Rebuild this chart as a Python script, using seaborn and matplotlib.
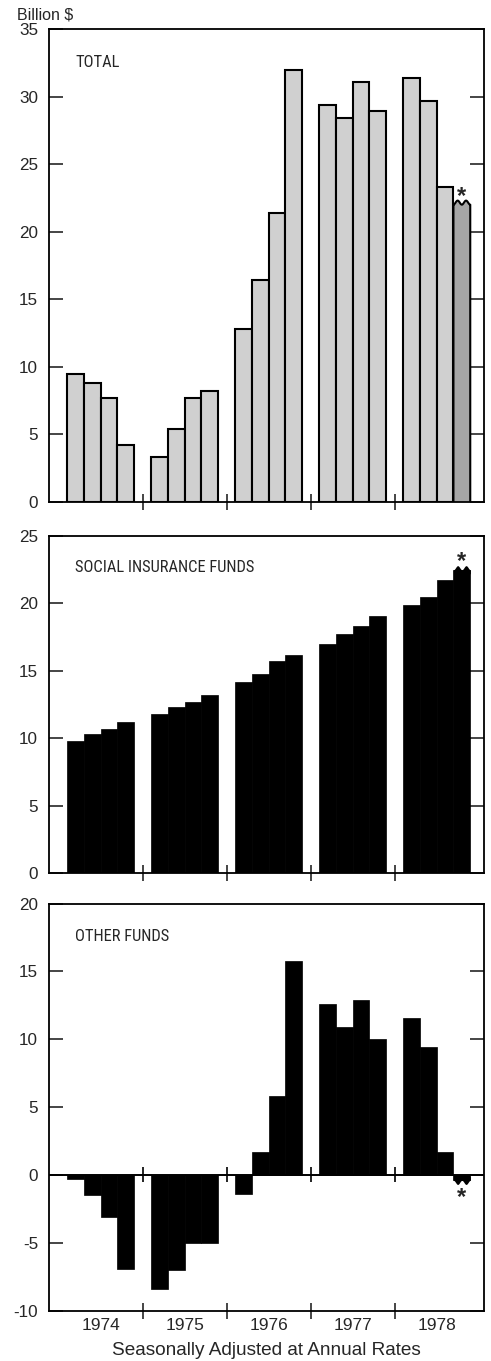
import numpy as np
import pandas as pd
import matplotlib
matplotlib.use("Agg")
import matplotlib.pyplot as plt
from matplotlib import font_manager
import seaborn as sns

# quarterly values, billion $ (seasonally adjusted annual rates)
years = ["1974", "1975", "1976", "1977", "1978"]
quarters = [1, 2, 3, 4]
total = [9.5, 8.8, 7.7, 4.2, 3.3, 5.4, 7.7, 8.2, 12.8, 16.4, 21.4, 32.0,
         29.4, 28.4, 31.1, 28.9, 31.4, 29.7, 23.3, 22.0]
social = [9.8, 10.3, 10.7, 11.2, 11.8, 12.3, 12.7, 13.2, 14.2, 14.8, 15.7, 16.2,
          17.0, 17.7, 18.3, 19.1, 19.9, 20.5, 21.7, 22.5]
other = [-0.3, -1.5, -3.1, -6.9, -8.4, -7.0, -5.0, -5.0, -1.4, 1.7, 5.8, 15.8,
         12.6, 10.9, 12.9, 10.0, 11.6, 9.4, 1.7, -0.4]
panel_titles = ["TOTAL", "SOCIAL INSURANCE FUNDS", "OTHER FUNDS"]

sns.set_style("white")
plt.rcParams["font.family"] = ["Liberation Sans", "DejaVu Sans"]
plt.rcParams["axes.unicode_minus"] = False


def pick_font(cands):
    for name, size in cands:
        try:
            font_manager.findfont(font_manager.FontProperties(family=name),
                                  fallback_to_default=False)
            return name, size
        except ValueError:
            continue
    return "Liberation Sans", 9.6


# panel labels are set in a condensed face
narrow, narrow_size = pick_font([("Liberation Sans Narrow", 12.4),
                                 ("Roboto Condensed", 11.9),
                                 ("Noto Sans Condensed", 11.3),
                                 ("Open Sans Condensed", 11.9)])

# 4 bars per year plus one empty slot between years
pos = [y * 5 + (q - 1) for y in range(len(years)) for q in quarters]
df = pd.DataFrame({"pos": pos, "total": total, "social": social, "other": other})
year_breaks = [y * 5 + 4 for y in range(len(years) - 1)]
year_centers = [y * 5 + 1.5 for y in range(len(years))]

fig = plt.figure(figsize=(4.91, 13.61), dpi=100)
ax1 = fig.add_axes([0.0998, 0.6312, 0.886, 0.3475])
ax2 = fig.add_axes([0.0998, 0.3583, 0.886, 0.2479])
ax3 = fig.add_axes([0.0998, 0.0370, 0.886, 0.2991])


def bumps(x0, x1, n=60):
    t = np.linspace(0, 1, n)
    return x0 + (x1 - x0) * t, np.sin(2 * np.pi * t) ** 2


def style_axis(ax, ylim, yticks, title, ty):
    ax.set_xlim(-1.57, 24.32)
    ax.set_ylim(*ylim)
    ax.set_yticks(yticks)
    ax.set_xticks(year_breaks)
    ax.set_xticklabels([])
    ax.set_xlabel("")
    ax.set_ylabel("")
    ax.tick_params(axis="y", direction="in", length=10, width=1.2,
                   left=True, right=True, labelsize=12.3, pad=8)
    ax.tick_params(axis="x", which="major", direction="inout", length=11,
                   width=1.2, bottom=True, top=False)
    for s in ax.spines.values():
        s.set_linewidth(1.3)
        s.set_color("black")
    ax.text(0.06, ty, title, transform=ax.transAxes, fontsize=narrow_size,
            family=[narrow, "DejaVu Sans"], va="center", ha="left")


# TOTAL
sns.barplot(data=df, x="pos", y="total", native_scale=True, width=1.0,
            color="#d0d0d0", edgecolor="black", linewidth=1.5,
            saturation=1, errorbar=None, ax=ax1)
last = ax1.patches[-1]
last.set_facecolor("#a6a6a6")
last.set_linewidth(0)
x0, x1 = last.get_x(), last.get_x() + last.get_width()
v = total[-1]
wx, wy = bumps(x0, x1)
ax1.fill_between(wx, v - 0.5, v + 0.3 * wy, color="#a6a6a6", lw=0)
ax1.plot(np.r_[x0, wx, x1], np.r_[0, v + 0.3 * wy, 0], color="black", lw=1.5)
ax1.annotate("*", xy=((x0 + x1) / 2, v), xytext=(0, 6), textcoords="offset points",
             ha="center", va="center", fontsize=17, fontweight="bold")
style_axis(ax1, (0, 35), range(0, 36, 5), panel_titles[0], 0.930)

# SOCIAL INSURANCE FUNDS
sns.barplot(data=df, x="pos", y="social", native_scale=True, width=1.0,
            color="black", edgecolor="black", linewidth=0.5,
            saturation=1, errorbar=None, ax=ax2)
last = ax2.patches[-1]
x0, x1 = last.get_x(), last.get_x() + last.get_width()
v = social[-1]
wx, wy = bumps(x0, x1)
ax2.fill_between(wx, v - 0.3, v + 0.3 * wy, color="black", lw=0)
ax2.annotate("*", xy=((x0 + x1) / 2, v), xytext=(0, 6), textcoords="offset points",
             ha="center", va="center", fontsize=17, fontweight="bold")
style_axis(ax2, (0, 25), range(0, 26, 5), panel_titles[1], 0.908)

# OTHER FUNDS
sns.barplot(data=df, x="pos", y="other", native_scale=True, width=1.0,
            color="black", edgecolor="black", linewidth=0.5,
            saturation=1, errorbar=None, ax=ax3)
last = ax3.patches[-1]
x0, x1 = last.get_x(), last.get_x() + last.get_width()
v = other[-1]
wx, wy = bumps(x0, x1)
ax3.fill_between(wx, v + 0.3, v - 0.3 * wy, color="black", lw=0)
ax3.annotate("*", xy=((x0 + x1) / 2, v), xytext=(0, -12), textcoords="offset points",
             ha="center", va="center", fontsize=17, fontweight="bold")
ax3.axhline(0, color="black", lw=1.4)
ax3.vlines(year_breaks, -0.55, 0.55, color="black", lw=1.2)
style_axis(ax3, (-10, 20), range(-10, 21, 5), panel_titles[2], 0.918)
ax3.set_xticks(year_centers, minor=True)
ax3.set_xticklabels(years, minor=True)
ax3.tick_params(axis="x", which="minor", length=0, labelsize=12.5, pad=5)
ax3.set_xlabel("Seasonally Adjusted at Annual Rates", fontsize=13.7, labelpad=6.5)

fig.text(0.0346, 0.989, "Billion $", fontsize=11.5, ha="left", va="center")

fig.savefig("out.png", dpi=100)
